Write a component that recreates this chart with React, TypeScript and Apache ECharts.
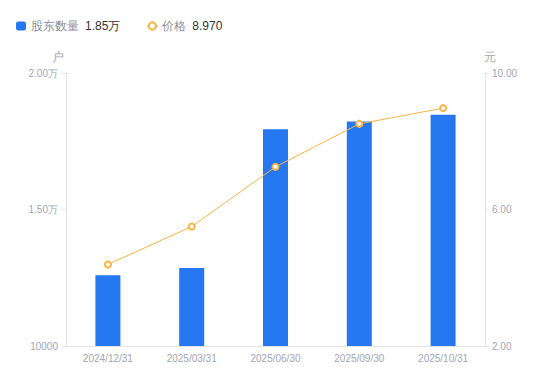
import React, { useEffect, useRef } from "react";
import * as echarts from "echarts";

const categories = ["2024/12/31", "2025/03/31", "2025/06/30", "2025/09/30", "2025/10/31"];
const holders = [12590, 12860, 17940, 18220, 18470];
const prices = [4.39, 5.5, 7.25, 8.51, 8.97];
const legendValues: Record<string, string> = { "股东数量": "1.85万", "价格": "8.970" };

export default function App() {
  const ref = useRef<HTMLDivElement>(null);
  useEffect(() => {
    if (!ref.current) return;
    const chart = echarts.init(ref.current, undefined, { renderer: "svg" });
    const labelColor = "#a3a6b4";
    const lineColor = "#e3e4e8";
    chart.setOption({
      animation: false,
      legend: {
        left: 11,
        top: 15,
        itemGap: 26,
        textStyle: {
          fontSize: 12,
          rich: {
            n: { color: "#8c8f99", fontSize: 12, padding: [0, 6, 0, 0] },
            v: { color: "#333", fontSize: 12 },
          },
        },
        formatter: (name: string) => `{n|${name}}{v|${legendValues[name]}}`,
        data: [
          { name: "股东数量", icon: "roundRect" },
          { name: "价格" },
        ],
        itemWidth: 10,
        itemHeight: 9,
      },
      grid: { left: 66, right: 65, top: 73, bottom: 35 },
      xAxis: {
        type: "category",
        data: categories,
        axisLine: { lineStyle: { color: lineColor } },
        axisTick: { show: false },
        axisLabel: { color: labelColor, fontSize: 10, margin: 7 },
      },
      yAxis: [
        {
          type: "value",
          name: "户",
          min: 10000,
          max: 20000,
          interval: 5000,
          nameTextStyle: { color: labelColor, fontSize: 12, padding: [0, 0, 0, -16] },
          nameGap: 10,
          axisLine: { show: true, lineStyle: { color: lineColor } },
          axisTick: { show: true, length: 4, lineStyle: { color: lineColor } },
          splitLine: { show: false },
          axisLabel: {
            color: labelColor,
            fontSize: 10,
            margin: 8,
            formatter: (v: number) => (v > 10000 ? (v / 10000).toFixed(2) + "万" : String(v)),
          },
        },
        {
          type: "value",
          name: "元",
          min: 2,
          max: 10,
          interval: 4,
          nameTextStyle: { color: labelColor, fontSize: 12, padding: [0, 0, 0, 10] },
          nameGap: 10,
          axisLine: { show: true, lineStyle: { color: lineColor } },
          axisTick: { show: true, length: 4, lineStyle: { color: lineColor } },
          splitLine: { show: false },
          axisLabel: {
            color: labelColor,
            fontSize: 10,
            margin: 7,
            formatter: (v: number) => v.toFixed(2),
          },
        },
      ],
      series: [
        {
          name: "股东数量",
          type: "bar",
          data: holders,
          barWidth: 25,
          itemStyle: { color: "#2577f2" },
        },
        {
          name: "价格",
          type: "line",
          yAxisIndex: 1,
          data: prices,
          symbol: "circle",
          symbolSize: 6,
          showSymbol: true,
          lineStyle: { color: "#f9b443", width: 1 },
          itemStyle: { color: "#fff", borderColor: "#f9b443", borderWidth: 2 },
        },
      ],
    });
    return () => chart.dispose();
  }, []);
  return (
    <div
      ref={ref}
      style={{ position: "absolute", left: 0, top: 0, width: 550, height: 381 }}
    />
  );
}
